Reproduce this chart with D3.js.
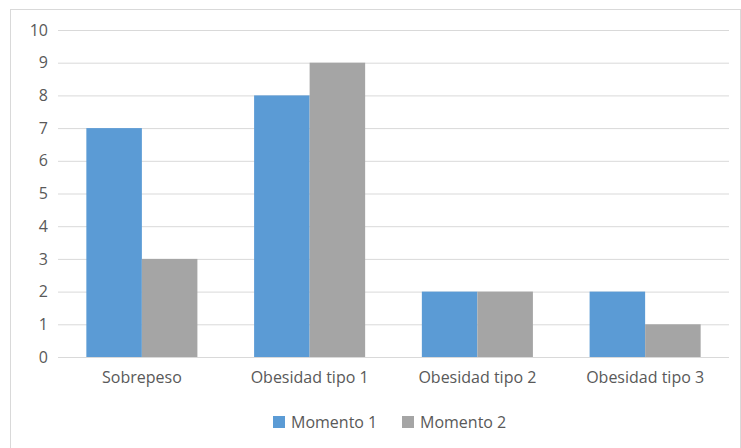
<!DOCTYPE html>
<html>
<head>
<meta charset="utf-8">
<script src="https://cdn.jsdelivr.net/npm/d3@7"></script>
<style>
  body { margin: 0; background: #fff; }
  text { font-family: "Open Sans", sans-serif; fill: #595959; }
</style>
</head>
<body>
<div id="chart"></div>
<script>
    var w = 741;
    var h = 448;
    var margin = {top: 30, right: 12, bottom: 91, left: 58};
    var innerW = w - margin.left - margin.right,
        innerH = h - margin.top - margin.bottom;

    var categories = ['Sobrepeso', 'Obesidad tipo 1', 'Obesidad tipo 2', 'Obesidad tipo 3'];
    var seriesNames = ['Momento 1', 'Momento 2'];
    var momento1 = [7, 8, 2, 2];
    var momento2 = [3, 9, 2, 1];
    var yTicks = [0, 1, 2, 3, 4, 5, 6, 7, 8, 9, 10];
    var colors = ['#5B9BD5', '#A5A5A5'];

    var dataset = categories.map(function(c, i) {
        return {cat: c, values: [momento1[i], momento2[i]]};
    });

    var x = d3.scaleBand()
              .domain(categories)
              .range([0, innerW])
              .paddingInner(0.338)
              .paddingOuter(0.169);
    var xSub = d3.scaleBand()
              .domain(d3.range(seriesNames.length))
              .range([0, x.bandwidth()]);
    var y = d3.scaleLinear()
              .domain([0, 10])
              .range([innerH, 0]);

    var svg = d3.select('#chart').append('svg')
              .attr('width', w)
              .attr('height', h);

    // chart border
    svg.append('rect')
       .attr('x', 10.5).attr('y', 9.5)
       .attr('width', w - 11).attr('height', h)
       .attr('fill', 'none')
       .attr('stroke', '#D9D9D9');

    var g = svg.append('g')
               .attr('transform', 'translate(' + [margin.left, margin.top] + ')');

    // y axis with gridlines
    var yAxis = d3.axisLeft(y)
                  .tickValues(yTicks)
                  .tickSizeInner(-innerW)
                  .tickSizeOuter(0)
                  .tickPadding(10);
    var yG = g.append('g').attr('class', 'y axis').call(yAxis);
    yG.select('.domain').remove();
    yG.selectAll('line').attr('stroke', '#D9D9D9');
    yG.selectAll('text').style('font-size', '16px').style('font-family', '"Open Sans", sans-serif').style('fill', '#595959');

    var bar = g.selectAll('.grp')
        .data(dataset)
        .enter().append('g')
        .attr('class', 'grp')
        .attr('transform', function(d) { return 'translate(' + x(d.cat) + ',0)'; });

    bar.selectAll('rect')
        .data(function(d) { return d.values; })
        .enter().append('rect')
        .attr('x', function(d, i) { return xSub(i); })
        .attr('y', function(d) { return y(d); })
        .attr('width', xSub.bandwidth())
        .attr('height', function(d) { return innerH - y(d); })
        .attr('fill', function(d, i) { return colors[i]; });

    // x axis labels
    var xAxis = d3.axisBottom(x).tickSize(0).tickPadding(15);
    var xG = g.append('g')
        .attr('transform', 'translate(' + [0, innerH] + ')')
        .call(xAxis);
    xG.select('.domain').remove();
    xG.selectAll('text').style('font-size', '16px').style('font-family', '"Open Sans", sans-serif').style('fill', '#595959');

    // legend
    var legend = svg.append('g').attr('transform', 'translate(273,416)');
    var offsets = [0, 129];
    seriesNames.forEach(function(s, i) {
        var it = legend.append('g').attr('transform', 'translate(' + offsets[i] + ',0)');
        it.append('rect').attr('width', 12).attr('height', 12).attr('fill', colors[i]);
        it.append('text').attr('x', 18).attr('y', 12)
          .style('font-size', '16px').text(s);
    });
</script>
</body>
</html>
